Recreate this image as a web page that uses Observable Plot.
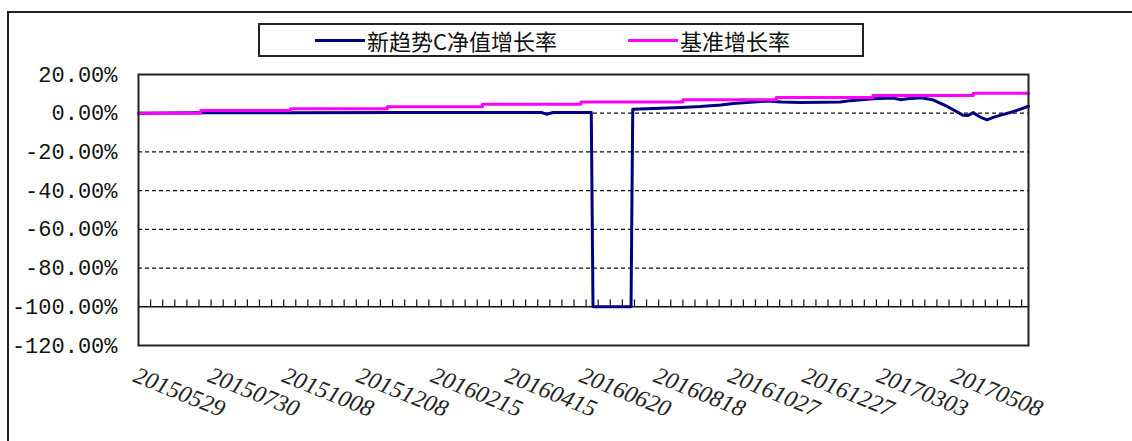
<!DOCTYPE html>
<html>
<head>
<meta charset="utf-8">
<script src="https://cdn.jsdelivr.net/npm/d3@7"></script>
<script src="https://cdn.jsdelivr.net/npm/@observablehq/plot@0.6"></script>
<style>
  html, body { margin: 0; padding: 0; background: #fff; }
  #wrap { position: relative; width: 1132px; height: 441px; overflow: hidden; background: #fff; }
  #outer { position: absolute; left: 7px; top: 11px; width: 1200px; height: 500px; border: 2px solid #222; box-sizing: border-box; }
  #chart { position: absolute; left: 0; top: 0; }
  #legend { position: absolute; left: 258px; top: 23px; width: 606px; height: 34px; border: 2px solid #222; box-sizing: border-box; background: #fff;
            font-family: "Noto Sans CJK SC", sans-serif; font-size: 22px; color: #111; }
  .item { position: absolute; top: 0; height: 30px; display: flex; align-items: center; white-space: nowrap; }
  .swatch { display: inline-block; width: 50px; height: 3px; margin-right: 2px; }
  g[aria-label="xlabels"] text { letter-spacing: 2px; }
</style>
</head>
<body>
<div id="wrap">
  <div id="outer"></div>
  <div id="chart"></div>
  <div id="legend"></div>
</div>
<script>
// ---- data ----
const seriesNames = ["新趋势C净值增长率", "基准增长率"];
const seriesColors = ["#000080", "#ff00ff"];

// x = trading-day index since 20150529
const tickLabels = ["20150529","20150730","20151008","20151208","20160215","20160415","20160620","20160818","20161027","20161227","20170303","20170508"];
const tickLabelIdx = [0,43,86,129,172,215,258,301,344,387,430,473];

const fundIdx = [0,36,88,152,233,236,240,262,263,285,286,302,314,325,337,344,354,364,372,383,396,406,412,425,437,441,445,453,460,468,473,477,480,483,487,491,495,499,505,510,515];
const fundVal = [0,0.2,0.3,0.4,0.4,-0.5,0.4,0.4,-100,-100,2.0,2.6,3.0,3.5,4.3,5.0,5.6,6.3,5.8,5.5,5.6,5.8,6.5,7.5,7.8,7.0,7.5,8.0,6.8,3.5,1.0,-1.0,-1.2,0.3,-2.0,-3.4,-2.0,-1.0,0.5,2.0,3.6];

const benchIdx = [0,36,88,144,199,256,315,369,425,483,515];
const benchVal = [0,1.4,2.3,3.4,4.6,5.8,7.0,8.1,9.2,10.3,10.3];

const yTicks = [20,0,-20,-40,-60,-80,-100,-120];
const dashedGrid = [0,-20,-40,-60,-80];
const solidGrid = [-100];

// ---- build ----
const fund = fundIdx.map((i, k) => ({i, v: fundVal[k]}));
const bench = benchIdx.map((i, k) => ({i, v: benchVal[k]}));
const labels = tickLabelIdx.map((i, k) => ({i, label: tickLabels[k]}));
const minorTicks = d3.range(0, 516, 7);

const chart = Plot.plot({
  width: 1132,
  height: 441,
  marginTop: 74,
  marginLeft: 138,
  marginRight: 104,
  marginBottom: 96,
  style: {background: "transparent", color: "#111"},
  x: {domain: [0, 515], axis: null},
  y: {domain: [-120, 20], axis: null},
  marks: [
    Plot.ruleY(dashedGrid, {stroke: "#111", strokeWidth: 1.3, strokeDasharray: "4,3"}),
    Plot.ruleY(solidGrid, {stroke: "#111", strokeWidth: 1.5}),
    Plot.ruleX(minorTicks, {y1: -100, y2: -96.5, stroke: "#111", strokeWidth: 1.2}),
    Plot.line(fund, {x: "i", y: "v", stroke: seriesColors[0], strokeWidth: 3, curve: "linear"}),
    Plot.line(bench, {x: "i", y: "v", stroke: seriesColors[1], strokeWidth: 3, curve: "step-after"}),
    Plot.frame({stroke: "#222", strokeWidth: 2}),
    Plot.axisY(yTicks, {label: null, tickSize: 0, tickPadding: 21, tickFormat: d => d.toFixed(2) + "%",
      fontFamily: "Liberation Mono", fontSize: 22, fill: "#111"}),
    Plot.text(labels, {x: "i", text: "label", frameAnchor: "bottom", dy: 20, dx: 0,
      rotate: 22, textAnchor: "start", lineAnchor: "top",
      fontFamily: "Liberation Serif", fontStyle: "italic", fontSize: 24, fill: "#222",
      ariaLabel: "xlabels"})
  ]
});
document.getElementById("chart").appendChild(chart);

// legend
const legend = document.getElementById("legend");
const lx = [55, 368];
seriesNames.forEach((name, k) => {
  const it = document.createElement("div");
  it.className = "item";
  it.style.left = lx[k] + "px";
  const sw = document.createElement("span");
  sw.className = "swatch";
  sw.style.background = seriesColors[k];
  const tx = document.createElement("span");
  tx.textContent = name;
  it.appendChild(sw);
  it.appendChild(tx);
  legend.appendChild(it);
});
</script>
</body>
</html>
